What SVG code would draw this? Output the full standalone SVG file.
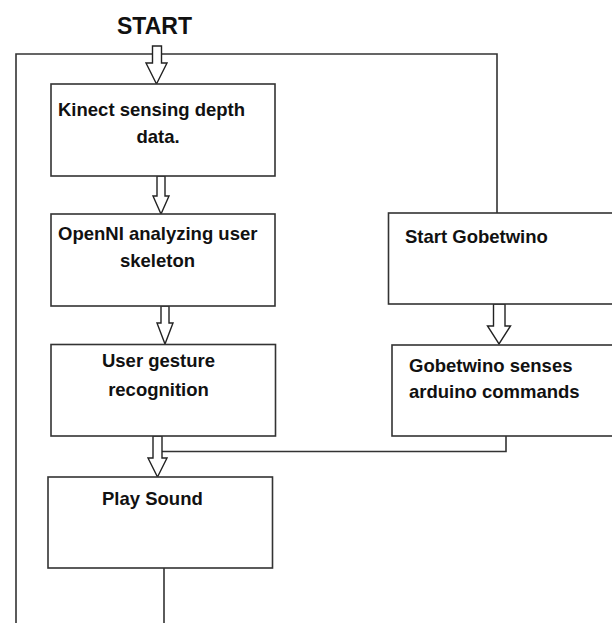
<svg xmlns="http://www.w3.org/2000/svg" width="612" height="623" viewBox="0 0 612 623">
<style>
.box{fill:#fff;stroke:#333;stroke-width:1.6}
.ln{fill:none;stroke:#333;stroke-width:1.6}
.arr{fill:#fff;stroke:#222;stroke-width:1.4;stroke-linejoin:miter}
.t{font-family:"Liberation Sans",Arial,sans-serif;font-weight:bold;font-size:18.5px;fill:#111}
.title{font-family:"Liberation Sans",Arial,sans-serif;font-weight:bold;font-size:23px;fill:#111}
</style>
<rect width="612" height="623" fill="#fff"/>
<text class="title" x="117" y="34">START</text>
<g id="connectors">
<polyline class="ln" points="16,623 16,54 497,54 497,213"/>
<line class="ln" x1="164" y1="568" x2="164" y2="623"/>
<polyline class="ln" points="162,451.5 506,451.5 506,434"/>
<polygon class="arr" points="152.5,46 161.5,46 161.5,63 167,63 156.5,84 146,63 152.5,63"/>
<polygon class="arr" points="157,176 165,176 165,196 169,196 161,214 153,196 157,196"/>
<polygon class="arr" points="161,306 169,306 169,323 173,323 165,344 157,323 161,323"/>
<polygon class="arr" points="153,436 162,436 162,458 167,458 157.5,477 148,458 153,458"/>
<polygon class="arr" points="493.5,304 505,304 505,326 510.5,326 499,344 487.5,326 493.5,326"/>
</g>
<g id="kinect">
<rect class="box" x="51" y="84" width="224" height="92"/>
<text class="t" x="58" y="116">Kinect sensing depth</text>
<text class="t" x="158" y="143" text-anchor="middle">data.</text>
</g>
<g id="openni">
<rect class="box" x="51" y="214" width="224" height="92"/>
<text class="t" x="58" y="240">OpenNI analyzing user</text>
<text class="t" x="157.5" y="267" text-anchor="middle">skeleton</text>
</g>
<g id="gesture">
<rect class="box" x="51" y="344.5" width="224.5" height="91.5"/>
<text class="t" x="158.5" y="367" text-anchor="middle">User gesture</text>
<text class="t" x="158.5" y="396" text-anchor="middle">recognition</text>
</g>
<g id="play">
<rect class="box" x="48" y="477" width="224.5" height="91"/>
<text class="t" x="102" y="505">Play Sound</text>
</g>
<g id="start-gobetwino">
<rect class="box" x="388.5" y="213" width="240" height="91"/>
<text class="t" x="405" y="243">Start Gobetwino</text>
</g>
<g id="gobetwino-senses">
<rect class="box" x="392" y="345" width="240" height="91"/>
<text class="t" x="409" y="372">Gobetwino senses</text>
<text class="t" x="409" y="398">arduino commands</text>
</g>
</svg>
